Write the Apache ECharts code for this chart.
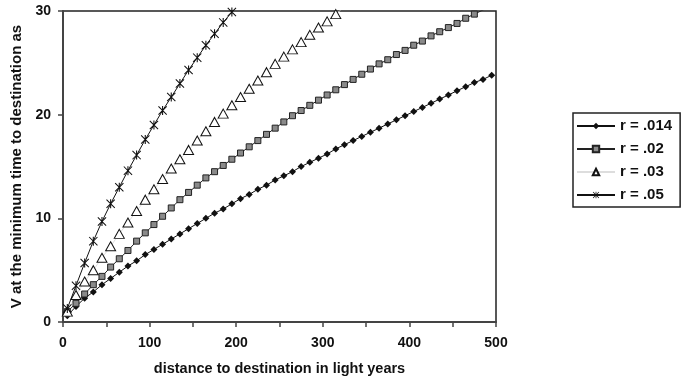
<!DOCTYPE html>
<html>
<head>
<meta charset="utf-8">
<script src="https://cdn.jsdelivr.net/npm/echarts@6/dist/echarts.min.js"></script>
<style>
html, body { margin: 0; padding: 0; background: #fff; }
#chart { width: 685px; height: 383px; }
</style>
</head>
<body>
<div id="chart"></div>
<script>
// distance (light years) at which each marker sits
var distances = [5, 15, 25, 35, 45, 55, 65, 75, 85, 95,
    105, 115, 125, 135, 145, 155, 165, 175, 185, 195,
    205, 215, 225, 235, 245, 255, 265, 275, 285, 295,
    305, 315, 325, 335, 345, 355, 365, 375, 385, 395,
    405, 415, 425, 435, 445, 455, 465, 475, 485, 495];

var seriesNames = ['r = .014', 'r = .02', 'r = .03', 'r = .05'];

// values
var r014 = [0.6, 1.5, 2.3, 2.9, 3.6, 4.2, 4.8, 5.4, 5.9, 6.5,
    7.0, 7.5, 8.0, 8.5, 9.0, 9.5, 10.0, 10.5, 10.9, 11.4,
    11.9, 12.3, 12.8, 13.2, 13.7, 14.1, 14.5, 15.0, 15.4, 15.8,
    16.2, 16.7, 17.1, 17.5, 17.9, 18.3, 18.7, 19.1, 19.5, 19.9,
    20.3, 20.7, 21.1, 21.5, 21.9, 22.3, 22.7, 23.1, 23.4, 23.8];
var r02 = [1.0, 1.8, 2.7, 3.6, 4.4, 5.3, 6.1, 6.9, 7.8, 8.6,
    9.4, 10.2, 11.0, 11.8, 12.5, 13.2, 13.9, 14.5, 15.1, 15.7,
    16.3, 16.9, 17.5, 18.1, 18.7, 19.3, 19.9, 20.4, 20.9, 21.4,
    21.9, 22.4, 22.9, 23.4, 23.9, 24.4, 24.9, 25.3, 25.8, 26.2,
    26.7, 27.1, 27.6, 28.0, 28.4, 28.8, 29.3, 29.7, 30.1, 30.5];
var r03 = [1.0, 2.6, 3.9, 5.0, 6.2, 7.3, 8.5, 9.6, 10.7, 11.8,
    12.8, 13.8, 14.8, 15.7, 16.6, 17.5, 18.4, 19.3, 20.1, 20.9,
    21.7, 22.5, 23.3, 24.1, 24.9, 25.6, 26.3, 27.0, 27.7, 28.4,
    29.0, 29.7, 30.4];
var r05 = [1.3, 3.5, 5.7, 7.8, 9.7, 11.4, 13.0, 14.6, 16.1, 17.6,
    19.0, 20.4, 21.7, 23.0, 24.3, 25.5, 26.7, 27.8, 28.9, 29.9,
    31.0];

var xTicks = [0, 100, 200, 300, 400, 500];
var yTicks = [0, 10, 20, 30];

function pairs(vals) {
    return vals.map(function (v, i) { return [distances[i], v]; });
}

var font = "'Liberation Sans', Arial, sans-serif";
var asterisk = 'path://M4.4 0 L5.6 0 L5.6 10 L4.4 10 Z M0.8 0 L10 9.2 L9.2 10 L0 0.8 Z M9.2 0 L10 0.8 L0.8 10 L0 9.2 Z';

var option = {
    animation: false,
    backgroundColor: '#fff',
    grid: {
        left: 63,
        right: 189,
        top: 11,
        bottom: 61,
        show: true,
        borderColor: '#222',
        borderWidth: 1.5
    },
    legend: {
        orient: 'vertical',
        left: 573,
        top: 113,
        padding: [5, 8, 4, 3],
        itemWidth: 38,
        itemHeight: 8,
        itemGap: 7,
        borderColor: '#222',
        borderWidth: 1.5,
        data: seriesNames,
        textStyle: {
            fontFamily: font,
            fontWeight: 'bold',
            fontSize: 15,
            lineHeight: 16,
            color: '#111'
        }
    },
    xAxis: {
        type: 'value',
        min: 0,
        max: 500,
        interval: 50,
        name: 'distance to destination in light years',
        nameLocation: 'middle',
        nameGap: 39,
        nameTextStyle: {fontFamily: font, fontWeight: 'bold', fontSize: 14.5, color: '#111'},
        axisLine: {lineStyle: {color: '#444', width: 2}},
        axisTick: {length: 5, lineStyle: {color: '#444', width: 1.5}},
        splitLine: {show: false},
        axisLabel: {
            margin: 14,
            fontFamily: font,
            fontWeight: 'bold',
            fontSize: 14,
            color: '#111',
            formatter: function (v) {
                return xTicks.indexOf(v) >= 0 ? String(v) : '';
            }
        }
    },
    yAxis: {
        type: 'value',
        min: 0,
        max: 30,
        interval: 10,
        name: 'V at the minimum time to destination as',
        nameLocation: 'middle',
        nameGap: 38,
        nameTextStyle: {fontFamily: font, fontWeight: 'bold', fontSize: 15, color: '#111'},
        axisLine: {show: true, lineStyle: {color: '#444', width: 2}},
        axisTick: {show: true, length: 5, lineStyle: {color: '#444', width: 1.5}},
        splitLine: {show: false},
        axisLabel: {
            margin: 12,
            fontFamily: font,
            fontWeight: 'bold',
            fontSize: 14,
            color: '#111',
            formatter: function (v) {
                return yTicks.indexOf(v) >= 0 ? String(v) : '';
            }
        }
    },
    series: [{
        name: seriesNames[0],
        type: 'line',
        data: pairs(r014),
        symbol: 'diamond',
        symbolSize: 7,
        showAllSymbol: true,
        lineStyle: {color: '#111', width: 1},
        itemStyle: {color: '#111'}
    }, {
        name: seriesNames[1],
        type: 'line',
        data: pairs(r02),
        symbol: 'rect',
        symbolSize: 6,
        showAllSymbol: true,
        lineStyle: {color: '#222', width: 1},
        itemStyle: {color: '#8a8a8a', borderColor: '#222', borderWidth: 1}
    }, {
        name: seriesNames[2],
        type: 'line',
        data: pairs(r03),
        symbol: 'triangle',
        symbolSize: [10, 9],
        showAllSymbol: true,
        lineStyle: {color: '#ddd', width: 1},
        itemStyle: {color: '#fff', borderColor: '#111', borderWidth: 1}
    }, {
        name: seriesNames[3],
        type: 'line',
        data: pairs(r05),
        symbol: asterisk,
        symbolSize: 9,
        showAllSymbol: true,
        lineStyle: {color: '#111', width: 1},
        itemStyle: {color: '#111'}
    }]
};

var chart = echarts.init(document.getElementById('chart'));
chart.setOption(option);
</script>
</body>
</html>
